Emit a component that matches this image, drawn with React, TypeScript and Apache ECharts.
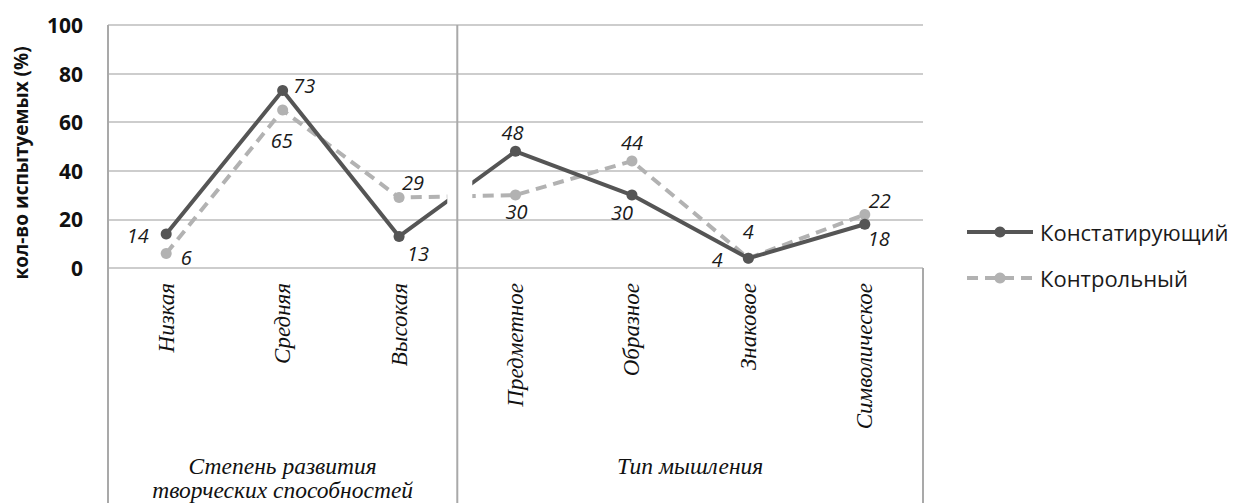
import React, { useEffect, useRef } from "react";
import * as echarts from "echarts";

const categories = ["Низкая", "Средняя", "Высокая", "Предметное", "Образное", "Знаковое", "Символическое"];
const seriesNames = ["Констатирующий", "Контрольный"];
const constValues = [14, 73, 13, 48, 30, 4, 18];
const controlValues = [6, 65, 29, 30, 44, 4, 22];
const yMin = 0;
const yMax = 100;
const yInterval = 20;
const yTitle = "кол-во испытуемых (%)";
const groupLabels = ["Степень развития\nтворческих способностей", "Тип мышления"];
const groupSizes = [3, 4];

// label placement (style only)
const constLabelPlace = [
  { position: "left", distance: 12, offset: [0, 2] },
  { position: "right", distance: 5, offset: [0, -5] },
  { position: "bottom", distance: 2, offset: [19, 0] },
  { position: "top", distance: 3, offset: [-3, 0] },
  { position: "bottom", distance: 2, offset: [-10, 0] },
  { position: "left", distance: 20, offset: [0, 1] },
  { position: "bottom", distance: -1, offset: [14, 0] },
];
const controlLabelPlace = [
  { position: "right", distance: 9, offset: [0, 4] },
  { position: "bottom", distance: 15, offset: [-1, 0] },
  { position: "top", distance: 0, offset: [14, 0] },
  { position: "bottom", distance: 1, offset: [1, 0] },
  { position: "top", distance: 3, offset: [0, 0] },
  { position: "top", distance: 11, offset: [0, 0] },
  { position: "top", distance: -1, offset: [15, 0] },
];

const labelFont = { fontFamily: "Open Sans", fontStyle: "italic", fontSize: 20, color: "#1a1a1a" };

function mk(values: number[], places: any[]) {
  return values.map((v, i) => ({ value: v, label: { ...places[i] } }));
}

export default function App() {
  const ref = useRef<HTMLDivElement>(null);
  useEffect(() => {
    if (!ref.current) return;
    const chart = echarts.init(ref.current, undefined, { renderer: "svg" });
    chart.setOption({
      animation: false,
      backgroundColor: "#ffffff",
      grid: { left: 108, right: 311, top: 25, bottom: 235, containLabel: false },
      legend: {
        orient: "vertical",
        left: 960,
        top: 216,
        itemWidth: 66,
        itemHeight: 14,
        itemGap: 24,
        lineStyle: { width: 4 },
        textStyle: { fontFamily: "Open Sans", fontSize: 22, color: "#1a1a1a", padding: [0, 0, 0, 2] },
        data: seriesNames,
      },
      xAxis: {
        type: "category",
        data: categories,
        boundaryGap: true,
        axisLine: { show: false },
        axisTick: { show: false },
        splitLine: { show: false },
        axisLabel: {
          rotate: 90,
          margin: 15,
          interval: 0,
          fontFamily: "Liberation Serif",
          fontStyle: "italic",
          fontSize: 23,
          color: "#111111",
        },
      },
      yAxis: {
        type: "value",
        min: yMin,
        max: yMax,
        interval: yInterval,
        axisLine: { show: false },
        axisTick: { show: false },
        splitLine: { lineStyle: { color: "#bdbdbd", width: 1.5 } },
        axisLabel: {
          margin: 25,
          fontFamily: "Open Sans",
          fontWeight: "bold",
          fontSize: 21,
          color: "#111111",
        },
      },
      series: [
        {
          name: seriesNames[0],
          type: "line",
          data: mk(constValues, constLabelPlace),
          symbol: "circle",
          symbolSize: 11,
          z: 3,
          itemStyle: { color: "#555555" },
          lineStyle: { color: "#555555", width: 4 },
          label: { show: true, ...labelFont },
        },
        {
          name: seriesNames[1],
          type: "line",
          data: mk(controlValues, controlLabelPlace),
          symbol: "circle",
          symbolSize: 11,
          z: 2,
          itemStyle: { color: "#b2b2b2" },
          lineStyle: { color: "#b2b2b2", width: 4, type: [11, 7] },
          label: { show: true, ...labelFont },
        },
      ],
    });

    const px = (i: number) => chart.convertToPixel({ xAxisIndex: 0 }, i) as number;
    const py = (v: number) => chart.convertToPixel({ yAxisIndex: 0 }, v) as number;
    const catW = px(1) - px(0);
    const left = px(0) - catW / 2;
    const right = px(categories.length - 1) + catW / 2;
    const yTop = py(yMax);
    const yZero = py(yMin);
    const bottom = 503;
    const dividers: number[] = [];
    let acc = 0;
    const groupCenters: number[] = [];
    groupSizes.forEach((n, gi) => {
      const start = px(acc) - catW / 2;
      acc += n;
      const end = px(acc - 1) + catW / 2;
      groupCenters.push((start + end) / 2);
      if (gi < groupSizes.length - 1) dividers.push(end);
    });
    const vcol = "#a9a9a9";
    const graphics: any[] = [];
    graphics.push({
      type: "line",
      z: 110,
      shape: { x1: left, y1: yTop, x2: left, y2: bottom },
      style: { stroke: vcol, lineWidth: 2 },
    });
    graphics.push({
      type: "line",
      z: 110,
      shape: { x1: right, y1: yZero, x2: right, y2: bottom },
      style: { stroke: vcol, lineWidth: 2 },
    });
    dividers.forEach((d) => {
      graphics.push({
        type: "rect",
        z: 105,
        shape: { x: d - 10, y: py(38), width: 25, height: py(22) - py(38) },
        style: { fill: "#ffffff" },
      });
      graphics.push({
        type: "line",
        z: 110,
        shape: { x1: d, y1: yTop, x2: d, y2: bottom },
        style: { stroke: vcol, lineWidth: 2 },
      });
    });
    groupCenters.forEach((c, gi) => {
      graphics.push({
        type: "text",
        z: 110,
        x: c,
        y: 454,
        style: {
          text: groupLabels[gi],
          align: "center",
          verticalAlign: "top",
          fontFamily: "Liberation Serif",
          fontStyle: "italic",
          fontSize: 23.5,
          lineHeight: 24,
          fill: "#111111",
        },
      });
    });
    graphics.push({
      type: "text",
      z: 110,
      x: 21,
      y: 163,
      rotation: Math.PI / 2,
      style: {
        text: yTitle,
        align: "center",
        verticalAlign: "middle",
        fontFamily: "Open Sans",
        fontWeight: "bold",
        fontSize: 19,
        fill: "#111111",
      },
    });
    chart.setOption({ graphic: { elements: graphics } });

    return () => chart.dispose();
  }, []);
  return (
    <div
      ref={ref}
      style={{ position: "fixed", left: 0, top: 0, width: 1234, height: 503, background: "#fff" }}
    />
  );
}
